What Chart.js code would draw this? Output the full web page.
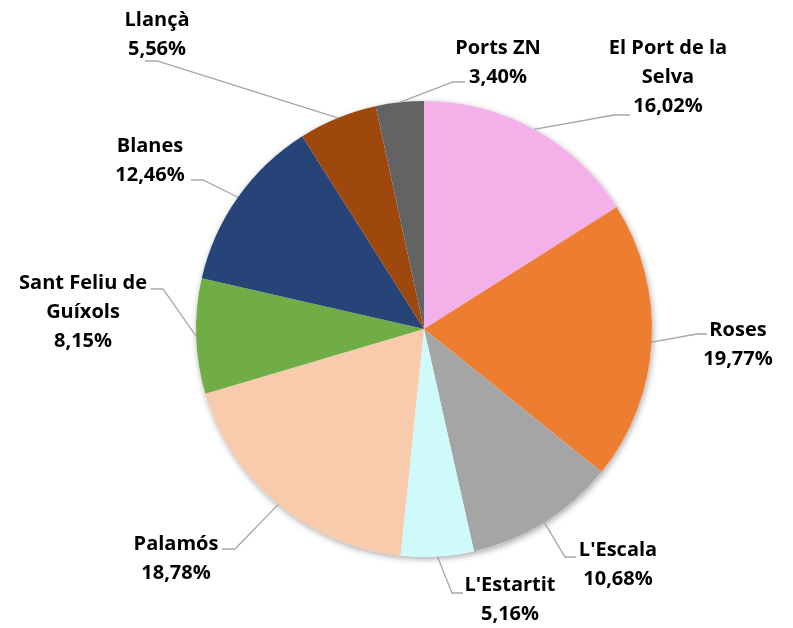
<!DOCTYPE html>
<html>
<head>
<meta charset="utf-8">
<script src="https://cdn.jsdelivr.net/npm/chart.js@4.4.1/dist/chart.umd.min.js"></script>
<style>
  html, body { margin: 0; padding: 0; background: #fff; }
  #wrap { width: 793px; height: 628px; }
</style>
</head>
<body>
<div id="wrap"><canvas id="myChart"></canvas></div>
<script>
// dades del grafic
var PORTS = ['El Port de la Selva', 'Roses', "L'Escala", "L'Estartit", 'Palamós',
             'Sant Feliu de Guíxols', 'Blanes', 'Llançà', 'Ports ZN'];
var PERCENTATGES = [16.02, 19.77, 10.68, 5.16, 18.78, 8.15, 12.46, 5.56, 3.40];
var COLORS = ['#F4B1E9', '#ED7D31', '#A5A5A5', '#CFFAFC', '#F8CBAD',
              '#70AD47', '#264478', '#9E480E', '#636363'];

// posicio de les etiquetes (text i linia guia)
var LABEL_LINES = [
  ['El Port de la', 'Selva'], ['Roses'], ["L'Escala"], ["L'Estartit"], ['Palamós'],
  ['Sant Feliu de', 'Guíxols'], ['Blanes'], ['Llançà'], ['Ports ZN']
];
var LABEL_POS = [
  { x: 668, y: 48,  elbow: [614, 115], end: [630, 115] },
  { x: 738, y: 330, elbow: [697, 334], end: [707, 334] },
  { x: 618, y: 550, elbow: [565, 557], end: [576, 557] },
  { x: 510, y: 585, elbow: [452, 593], end: [463, 593] },
  { x: 176, y: 544, elbow: [235, 549], end: [222, 549] },
  { x: 83,  y: 283, elbow: [163, 289], end: [151, 289] },
  { x: 150, y: 146, elbow: [203, 180], end: [191, 180] },
  { x: 157, y: 20,  elbow: [157, 61],  end: [145, 61] },
  { x: 498, y: 48,  elbow: [453, 82],  end: [465, 82] }
];

function fmt(v){
  return v.toFixed(2).replace('.', ',') + '%';
}

var pieShadow = {
  id: 'pieShadow',
  beforeDatasetsDraw: function(chart){
    var arc = chart.getDatasetMeta(0).data[0];
    if (!arc) return;
    var ctx = chart.ctx;
    ctx.save();
    ctx.shadowColor = 'rgba(0,0,0,0.35)';
    ctx.shadowBlur = 6;
    ctx.shadowOffsetX = 1;
    ctx.shadowOffsetY = 2;
    ctx.fillStyle = '#fff';
    ctx.beginPath();
    ctx.arc(arc.x, arc.y, arc.outerRadius, 0, Math.PI * 2);
    ctx.fill();
    ctx.restore();
  }
};

var leaderLabels = {
  id: 'leaderLabels',
  afterDatasetsDraw: function(chart){
    var ctx = chart.ctx;
    var meta = chart.getDatasetMeta(0);
    ctx.save();
    meta.data.forEach(function(arc, i){
      var p = LABEL_POS[i];
      var mid = (arc.startAngle + arc.endAngle) / 2;
      var ax = arc.x + Math.cos(mid) * arc.outerRadius;
      var ay = arc.y + Math.sin(mid) * arc.outerRadius;
      ctx.strokeStyle = '#A6A6A6';
      ctx.lineWidth = 1.3;
      ctx.beginPath();
      ctx.moveTo(ax, ay);
      ctx.lineTo(p.elbow[0], p.elbow[1]);
      ctx.lineTo(p.end[0], p.end[1]);
      ctx.stroke();

      var lines = LABEL_LINES[i].concat([fmt(PERCENTATGES[i])]);
      ctx.fillStyle = '#000';
      ctx.font = 'bold 20px "Open Sans"';
      ctx.textAlign = 'center';
      ctx.textBaseline = 'middle';
      lines.forEach(function(t, k){
        ctx.fillText(t, p.x, p.y + k * 29);
      });
    });
    ctx.restore();
  }
};

var graphic = document.getElementById('myChart').getContext('2d');
var chart = new Chart(graphic, {
  type: 'pie',
  data: {
    labels: PORTS,
    datasets: [{
      data: PERCENTATGES,
      backgroundColor: COLORS,
      borderWidth: 0
    }]
  },
  options: {
    responsive: true,
    maintainAspectRatio: false,
    animation: false,
    layout: { padding: { top: 101, bottom: 71, left: 55, right: 0 } },
    plugins: {
      legend: { display: false },
      tooltip: { enabled: false }
    }
  },
  plugins: [pieShadow, leaderLabels]
});
</script>
</body>
</html>
